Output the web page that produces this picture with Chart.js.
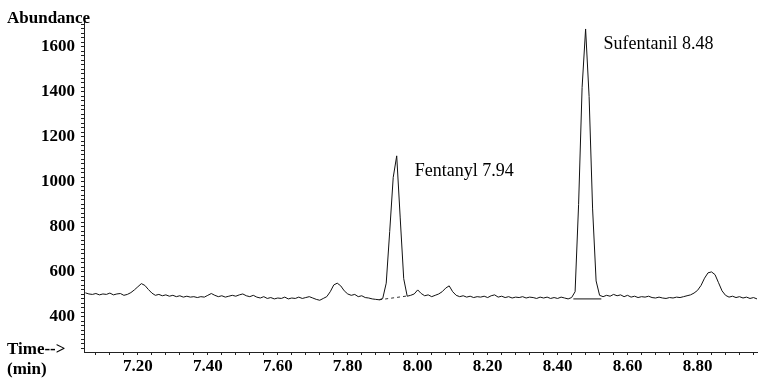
<!DOCTYPE html>
<html>
<head>
<meta charset="utf-8">
<script src="https://cdn.jsdelivr.net/npm/chart.js@4.4.1/dist/chart.umd.min.js"></script>
<style>
  html, body { margin: 0; padding: 0; background: #fff; }
  canvas { display: block; }
</style>
</head>
<body>
<canvas id="mainCanvas" width="758" height="379"></canvas>
<script>
// total ion trace, one reading every 0.01 min from 7.05 to 8.97
const scanStart = 7.05;
const scanStep = 0.01;
const abundance = [
  507, 502, 500, 504, 498, 502, 500, 506, 498, 502,   // 7.05
  504, 496, 500, 508, 520, 534, 548, 540, 522, 506,   // 7.15
  496, 500, 494, 498, 492, 496, 490, 494, 488, 492,   // 7.25
  488, 490, 486, 490, 488, 496, 504, 496, 490, 494,   // 7.35
  488, 492, 496, 492, 498, 502, 494, 490, 496, 488,   // 7.45
  484, 490, 482, 486, 480, 484, 482, 488, 480, 484,   // 7.55
  482, 488, 482, 486, 490, 484, 478, 474, 482, 490,   // 7.65
  512, 542, 550, 538, 516, 502, 496, 500, 490, 494,   // 7.75
  486, 484, 480, 478, 476, 482, 550, 780, 1020, 1116, // 7.85
  840, 570, 492, 496, 502, 520, 504, 494, 498, 490,   // 7.95
  496, 502, 512, 528, 538, 512, 496, 490, 494, 488,   // 8.05
  492, 486, 490, 488, 492, 486, 494, 498, 488, 492,   // 8.15
  486, 490, 484, 488, 486, 490, 484, 488, 486, 482,   // 8.25
  488, 484, 488, 482, 486, 482, 488, 484, 480, 486,   // 8.35
  512, 900, 1420, 1680, 1380, 880, 560, 496, 490, 496, // 8.45
  492, 500, 494, 498, 490, 496, 488, 492, 486, 490,   // 8.55
  488, 492, 486, 484, 488, 484, 482, 486, 484, 488,   // 8.65
  486, 490, 494, 498, 506, 518, 540, 572, 596, 600,   // 8.75
  588, 552, 516, 496, 488, 492, 486, 490, 484, 488,   // 8.85
  482, 486, 480                                       // 8.95
];

// integration baselines drawn under the two peaks
const fentanylBaseTimes = [7.89, 7.97];
const fentanylBaseLevels = [476, 493];
const sufentanilBaseTimes = [8.445, 8.525];
const sufentanilBaseLevels = [480, 480];

// peak labels
const peakNames = ['Fentanyl', 'Sufentanil'];
const peakTimes = [7.94, 8.48];
const peakHeights = [1116, 1680];

const timeTicks = [7.20, 7.40, 7.60, 7.80, 8.00, 8.20, 8.40, 8.60, 8.80];
const abundanceTicks = [400, 600, 800, 1000, 1200, 1400, 1600];

const serif = '"Liberation Serif", "Times New Roman", serif';

document.addEventListener('DOMContentLoaded', () => {
  const ctx = document.getElementById('mainCanvas').getContext('2d');

  const trace = abundance.map((v, i) => ({ x: +(scanStart + i * scanStep).toFixed(2), y: v }));
  const pairUp = (xs, ys) => xs.map((x, i) => ({ x, y: ys[i] }));

  const isMajor = (v, list) => list.some(t => Math.abs(t - v) < 1e-6);

  const labelsPlugin = {
    id: 'labels',
    afterDraw(chart) {
      const c = chart.ctx;
      const xs = chart.scales.x;
      const ys = chart.scales.y;
      c.save();
      c.fillStyle = '#000';
      c.textBaseline = 'middle';
      c.textAlign = 'left';

      c.font = 'bold 17px ' + serif;
      c.fillText('Abundance', 7, 19);
      c.fillText('Time-->', 7, 350);
      c.fillText('(min)', 7, 370);

      c.font = '18px ' + serif;
      peakNames.forEach((name, i) => {
        const px = xs.getPixelForValue(peakTimes[i]);
        const py = ys.getPixelForValue(peakHeights[i]);
        c.fillText(name + ' ' + peakTimes[i].toFixed(2), px + 18, py + 15);
      });
      c.restore();
    }
  };

  new Chart(ctx, {
    type: 'line',
    data: {
      datasets: [
        { data: trace, borderColor: '#111', borderWidth: 1, pointRadius: 0, tension: 0 },
        { data: pairUp(fentanylBaseTimes, fentanylBaseLevels), borderColor: '#333', borderWidth: 1, borderDash: [3, 3], pointRadius: 0 },
        { data: pairUp(sufentanilBaseTimes, sufentanilBaseLevels), borderColor: '#111', borderWidth: 1, pointRadius: 0 }
      ]
    },
    options: {
      responsive: false,
      animation: false,
      events: [],
      layout: { padding: { top: 22, right: 1, left: 0, bottom: 0 } },
      plugins: {
        legend: { display: false },
        tooltip: { enabled: false }
      },
      scales: {
        x: {
          type: 'linear',
          min: 7.046,
          max: 8.97,
          afterBuildTicks(scale) {
            const ticks = [];
            for (let v = 7.08; v < 8.97; v += 0.04) ticks.push({ value: Math.round(v * 100) / 100 });
            scale.ticks = ticks;
          },
          afterFit(scale) { scale.height = 27; },
          border: { color: '#222', width: 1 },
          grid: { drawOnChartArea: false, tickLength: 3, color: '#222' },
          ticks: {
            autoSkip: false,
            maxRotation: 0,
            padding: 1,
            color: '#000',
            font: { family: serif, size: 17, weight: 'bold' },
            callback: v => isMajor(v, timeTicks) ? v.toFixed(2) : ''
          }
        },
        y: {
          min: 244,
          max: 1711,
          afterBuildTicks(scale) {
            const ticks = [];
            for (let v = 260; v <= 1700; v += 20) ticks.push({ value: v });
            scale.ticks = ticks;
          },
          afterFit(scale) { scale.width = 84; },
          border: { color: '#222', width: 1 },
          grid: { drawOnChartArea: false, tickLength: 3, color: '#222' },
          ticks: {
            autoSkip: false,
            padding: 6,
            color: '#000',
            font: { family: serif, size: 17, weight: 'bold' },
            callback: v => isMajor(v, abundanceTicks) ? String(v) : ''
          }
        }
      }
    },
    plugins: [labelsPlugin]
  });
});
</script>
</body>
</html>
